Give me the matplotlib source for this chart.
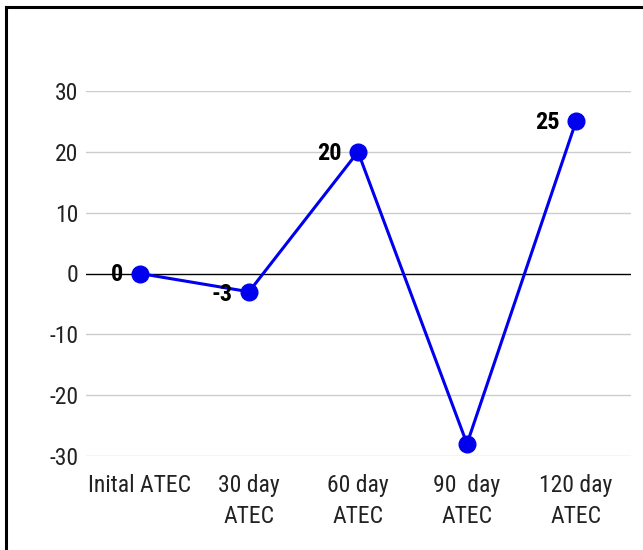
import matplotlib
matplotlib.use("Agg")
import matplotlib.pyplot as plt
from matplotlib import font_manager
from matplotlib.lines import Line2D

categories = ["Inital ATEC", "30 day\nATEC", "60 day\nATEC", "90  day\nATEC", "120 day\nATEC"]
values = [0, -3, 20, -28, 25]
point_labels = ["0", "-3", "20", "", "25"]
yticks = [-30, -20, -10, 0, 10, 20, 30]

names = {f.name for f in font_manager.fontManager.ttflist}
fam = "Liberation Sans"
for cand in ["Liberation Sans Narrow", "Arial Narrow", "Arimo Narrow", "Roboto Condensed", "Archivo Narrow", "PT Sans Narrow"]:
    if cand in names:
        fam = cand
        break
plt.rcParams["font.family"] = [fam, "DejaVu Sans"]

fig = plt.figure(figsize=(6.43, 5.5), dpi=100)
ax = fig.add_axes([85.5/643, (550-456)/550, 545/643, 365/550])

x = list(range(len(categories)))
ax.plot(x, values, color="#0000ee", lw=2.2, marker="o", ms=12, zorder=4)

for xi, v, lab in zip(x, values, point_labels):
    if lab:
        ax.annotate(lab, (xi, v), xytext=(-12, -1 if v >= 0 else -2), textcoords="offset points",
                    ha="right", va="center", fontsize=17.5, fontweight="bold", color="black",
                    zorder=5)

ax.set_xlim(-0.5, len(categories) - 0.5)
ax.set_ylim(-30, 30)
ax.set_yticks(yticks)
ax.set_yticklabels([str(t) for t in yticks])
ax.set_xticks(x)
ax.set_xticklabels(categories, linespacing=1.45)
ax.tick_params(axis="both", length=0, labelsize=17, colors="#222222")
ax.tick_params(axis="x", pad=13)
ax.tick_params(axis="y", pad=5)
for s in ax.spines.values():
    s.set_visible(False)
for t in yticks:
    if t != 0:
        ax.axhline(t, color="#cccccc", lw=1, zorder=1)
ax.axhline(0, color="black", lw=1, zorder=2)

# partial frame (top and left)
fig.add_artist(Line2D([6/643, 1], [1 - 7/550, 1 - 7/550], color="black", lw=2.2, transform=fig.transFigure))
fig.add_artist(Line2D([6/643, 6/643], [0, 1 - 7/550], color="black", lw=2.2, transform=fig.transFigure))

fig.savefig("out.png", dpi=100)
